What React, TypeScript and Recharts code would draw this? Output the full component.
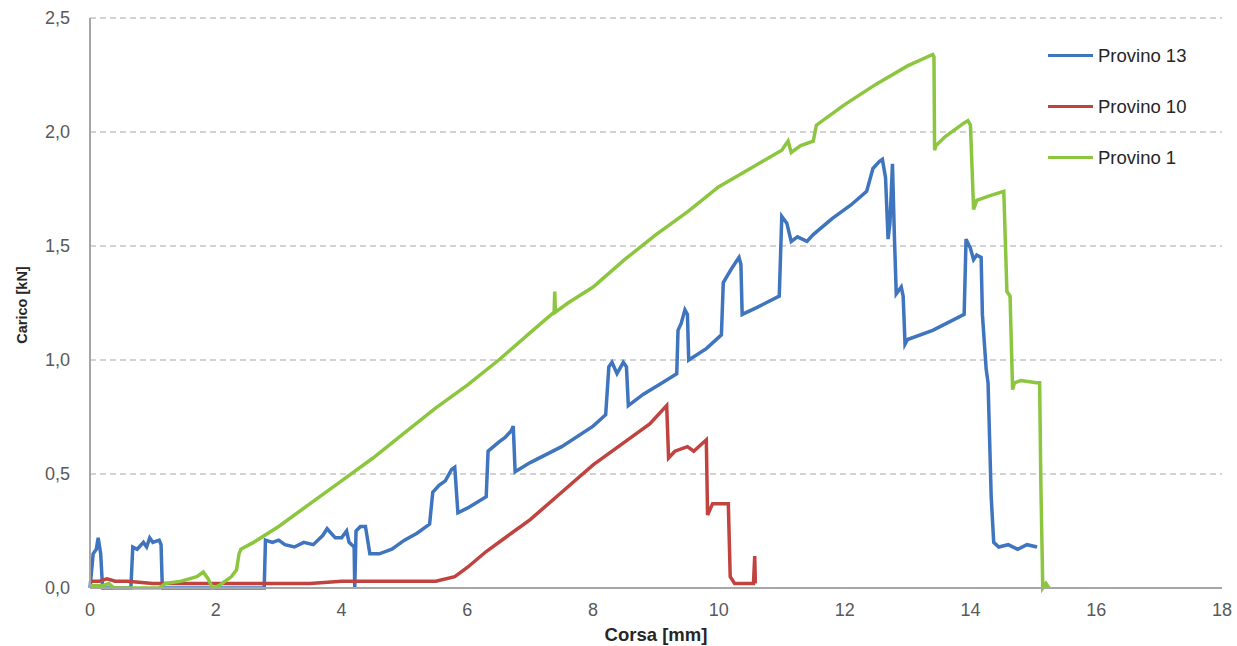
import React from 'react';
import { LineChart, Line, XAxis, YAxis, CartesianGrid, Legend } from 'recharts';

const xTicks = [0, 2, 4, 6, 8, 10, 12, 14, 16, 18];
const yTicks = [0, 0.5, 1, 1.5, 2, 2.5];
const seriesNames = ['Provino 13', 'Provino 10', 'Provino 1'];
const seriesColors = ['#3f74be', '#c0433f', '#8cc63f'];

const provino13: [number, number][] = [
  [0, 0], [0.05, 0.15], [0.1, 0.17], [0.13, 0.22], [0.17, 0.15], [0.2, 0.0], [0.65, 0.0],
  [0.68, 0.18], [0.75, 0.17], [0.85, 0.2], [0.9, 0.18], [0.95, 0.22], [1.0, 0.2], [1.1, 0.21],
  [1.13, 0.19], [1.15, 0.0], [2.77, 0.0], [2.79, 0.21], [2.9, 0.2], [3.0, 0.21], [3.1, 0.19],
  [3.25, 0.18], [3.4, 0.2], [3.55, 0.19], [3.7, 0.23], [3.77, 0.26], [3.9, 0.22], [4.0, 0.22],
  [4.08, 0.25], [4.12, 0.2], [4.2, 0.18], [4.21, 0.0], [4.23, 0.25], [4.3, 0.27], [4.38, 0.27],
  [4.45, 0.15], [4.6, 0.15], [4.8, 0.17], [5.0, 0.21], [5.2, 0.24], [5.4, 0.28], [5.45, 0.42],
  [5.55, 0.45], [5.65, 0.47], [5.75, 0.52], [5.8, 0.53], [5.85, 0.33], [6.0, 0.35], [6.3, 0.4],
  [6.33, 0.6], [6.5, 0.64], [6.6, 0.66], [6.7, 0.69], [6.73, 0.71], [6.76, 0.51], [7.0, 0.55],
  [7.5, 0.62], [8.0, 0.71], [8.2, 0.76], [8.25, 0.97], [8.3, 0.99], [8.38, 0.94], [8.48, 0.99],
  [8.53, 0.97], [8.56, 0.8], [8.8, 0.85], [9.1, 0.9], [9.33, 0.94], [9.35, 1.13], [9.4, 1.16],
  [9.46, 1.22], [9.5, 1.2], [9.52, 1.0], [9.8, 1.05], [10.04, 1.11], [10.07, 1.34], [10.2, 1.4],
  [10.32, 1.45], [10.35, 1.42], [10.37, 1.2], [10.6, 1.23], [10.96, 1.28], [11.0, 1.63],
  [11.08, 1.6], [11.15, 1.52], [11.25, 1.54], [11.4, 1.52], [11.5, 1.55], [11.8, 1.62],
  [12.1, 1.68], [12.35, 1.74], [12.45, 1.84], [12.55, 1.87], [12.6, 1.88], [12.65, 1.8],
  [12.69, 1.53], [12.72, 1.6], [12.76, 1.86], [12.79, 1.55], [12.82, 1.29], [12.9, 1.32],
  [12.93, 1.28], [12.96, 1.07], [13.0, 1.09], [13.4, 1.13], [13.9, 1.2], [13.93, 1.53],
  [14.0, 1.49], [14.05, 1.44], [14.1, 1.46], [14.17, 1.45], [14.19, 1.2], [14.25, 0.96],
  [14.28, 0.9], [14.33, 0.4], [14.37, 0.2], [14.45, 0.18], [14.6, 0.19], [14.75, 0.17],
  [14.9, 0.19], [15.06, 0.18],
];

const provino10: [number, number][] = [
  [0, 0.03], [0.15, 0.03], [0.27, 0.04], [0.4, 0.03], [0.6, 0.03], [1.0, 0.02], [1.5, 0.02],
  [2.0, 0.02], [2.5, 0.02], [3.0, 0.02], [3.5, 0.02], [4.0, 0.03], [4.5, 0.03], [5.0, 0.03],
  [5.5, 0.03], [5.8, 0.05], [6.0, 0.09], [6.3, 0.16], [6.7, 0.24], [7.0, 0.3], [7.5, 0.42],
  [8.0, 0.54], [8.5, 0.64], [8.9, 0.72], [9.17, 0.8], [9.2, 0.57], [9.3, 0.6], [9.5, 0.62],
  [9.6, 0.6], [9.8, 0.65], [9.82, 0.32], [9.9, 0.37], [10.15, 0.37], [10.18, 0.05],
  [10.25, 0.02], [10.55, 0.02], [10.57, 0.14], [10.58, 0.02],
];

const provino1: [number, number][] = [
  [0, 0.01], [0.2, 0.01], [0.3, 0.02], [0.38, 0.0], [1.1, 0.0], [1.2, 0.02], [1.45, 0.03],
  [1.7, 0.05], [1.8, 0.07], [1.88, 0.04], [1.95, 0.0], [2.05, 0.01], [2.25, 0.05], [2.33, 0.08],
  [2.37, 0.15], [2.4, 0.17], [2.6, 0.2], [3.0, 0.27], [3.5, 0.37], [4.0, 0.47], [4.5, 0.57],
  [5.0, 0.68], [5.5, 0.79], [6.0, 0.89], [6.5, 1.0], [7.0, 1.12], [7.38, 1.21], [7.39, 1.3],
  [7.4, 1.21], [7.6, 1.25], [8.0, 1.32], [8.5, 1.44], [9.0, 1.55], [9.5, 1.65], [10.0, 1.76],
  [10.5, 1.84], [11.0, 1.92], [11.1, 1.96], [11.15, 1.91], [11.3, 1.94], [11.5, 1.96],
  [11.55, 2.03], [12.0, 2.12], [12.5, 2.21], [13.0, 2.29], [13.4, 2.34], [13.42, 2.33],
  [13.43, 1.92], [13.45, 1.94], [13.6, 1.98], [13.9, 2.04], [13.96, 2.05], [14.0, 2.03],
  [14.05, 1.66], [14.1, 1.7], [14.3, 1.72], [14.53, 1.74], [14.58, 1.3], [14.63, 1.28],
  [14.67, 0.87], [14.7, 0.9], [14.8, 0.91], [15.05, 0.9], [15.1, 0.9], [15.12, 0.45],
  [15.15, 0.0], [15.2, 0.02], [15.25, 0.0],
];

const seriesData = [provino13, provino10, provino1].map((s) => s.map(([x, y]) => ({ x, y })));

const FONT = "'Liberation Sans', Arial, sans-serif";

const fmtY = (v: number) => v.toFixed(1).replace('.', ',');

const renderLegend = () => (
  <div style={{ fontFamily: FONT, fontSize: 18.5, color: '#262626' }}>
    {seriesNames.map((n, i) => (
      <div key={n} style={{ display: 'flex', alignItems: 'center', height: 51 }}>
        <div style={{ width: 45, height: 3, background: seriesColors[i], marginRight: 5 }} />
        <span>{n}</span>
      </div>
    ))}
  </div>
);

const YLabel = (props: any) => {
  const vb = props.viewBox || {};
  const cx = 22;
  const cy = vb.y + vb.height / 2 + 2;
  return (
    <text
      x={cx}
      y={cy}
      transform={`rotate(-90, ${cx}, ${cy})`}
      textAnchor="middle"
      dominantBaseline="central"
      style={{ fontFamily: FONT, fontSize: 14.5, fontWeight: 'bold', fill: '#262626' }}
    >
      Carico [kN]
    </text>
  );
};

export default function App() {
  return (
    <div style={{ position: 'absolute', left: 0, top: 0, width: 1237, height: 646, background: '#fff' }}>
      <LineChart width={1237} height={646} margin={{ top: 18, right: 15, bottom: 0, left: 40 }}>
        <CartesianGrid vertical={false} stroke="#a6a6a6" strokeDasharray="6 4" />
        <XAxis
          type="number"
          dataKey="x"
          domain={[0, 18]}
          ticks={xTicks}
          interval={0}
          height={58}
          tickLine={false}
          tickSize={0}
          tickMargin={15}
          axisLine={{ stroke: '#a6a6a6', strokeWidth: 2 }}
          tick={{ fill: '#595959', fontSize: 18, fontFamily: FONT }}
          label={{
            value: 'Corsa [mm]',
            position: 'insideBottom',
            offset: 5,
            style: { fontFamily: FONT, fontSize: 18.5, fontWeight: 'bold', fill: '#262626' },
          }}
        />
        <YAxis
          type="number"
          domain={[0, 2.5]}
          ticks={yTicks}
          interval={0}
          width={50}
          tickLine={false}
          tickSize={0}
          tickMargin={20}
          tickFormatter={fmtY}
          axisLine={{ stroke: '#a6a6a6', strokeWidth: 2 }}
          tick={{ fill: '#595959', fontSize: 18, fontFamily: FONT }}
          label={<YLabel />}
        />
        <Legend
          layout="horizontal"
          verticalAlign="middle"
          align="center"
          content={renderLegend}
          wrapperStyle={{ position: 'absolute', left: 1048, top: 30, width: 185 }}
        />
        {seriesData.map((d, i) => (
          <Line
            key={seriesNames[i]}
            data={d}
            dataKey="y"
            name={seriesNames[i]}
            type="linear"
            stroke={seriesColors[i]}
            strokeWidth={3.5}
            dot={false}
            activeDot={false}
            isAnimationActive={false}
          />
        ))}
      </LineChart>
    </div>
  );
}
